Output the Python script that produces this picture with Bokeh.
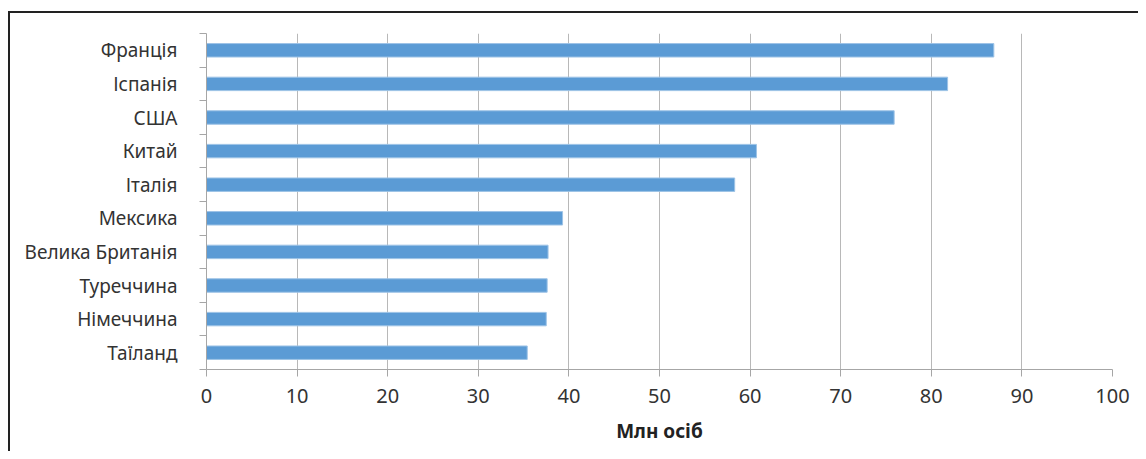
from bokeh.plotting import figure
from bokeh.models import FixedTicker, Range1d
from bokeh.embed import file_html
from bokeh.resources import INLINE

countries = ["Франція", "Іспанія", "США", "Китай", "Італія", "Мексика",
             "Велика Британія", "Туреччина", "Німеччина", "Таїланд"]
values = [86.9, 81.8, 75.9, 60.7, 58.3, 39.3, 37.7, 37.6, 37.5, 35.4]
x_ticks = [0, 10, 20, 30, 40, 50, 60, 70, 80, 90, 100]
x_title = "Млн осіб"

n = len(countries)
ypos = [n - i - 0.5 for i in range(n)]

p = figure(width=1130, height=440, output_backend="svg", toolbar_location=None,
           x_range=Range1d(0, 100), y_range=Range1d(0, n),
           min_border_left=196, min_border_right=28, min_border_top=20, min_border_bottom=84)
p.styles = {"border-left": "2px solid #222", "border-top": "2px solid #222",
            "margin-left": "8px", "margin-top": "11px"}

p.hbar(y=ypos, right=values, left=0, height=0.4, fill_color="#5B9BD5",
       line_color="#9DC3E6", line_width=1)

p.outline_line_color = None
p.background_fill_color = "white"
p.border_fill_color = "white"

# x axis
xa = p.xaxis[0]
xa.ticker = FixedTicker(ticks=x_ticks)
xa.axis_line_color = "#A6A6A6"
xa.major_tick_line_color = "#A6A6A6"
xa.major_tick_out = 7
xa.major_tick_in = 0
xa.minor_tick_line_color = None
xa.major_label_text_font = "Noto Sans"
xa.major_label_text_font_size = "20px"
xa.major_label_text_color = "#333333"
xa.major_label_standoff = 12
xa.axis_label = x_title
xa.axis_label_text_font = "Noto Sans"
xa.axis_label_text_font_style = "bold"
xa.axis_label_text_font_size = "19px"
xa.axis_label_text_color = "#222222"
xa.axis_label_standoff = 12

# y axis
ya = p.yaxis[0]
ya.ticker = FixedTicker(ticks=ypos, minor_ticks=list(range(n + 1)))
ya.major_label_overrides = {y: c for y, c in zip(ypos, countries)}
ya.axis_line_color = "#A6A6A6"
ya.major_tick_line_color = None
ya.minor_tick_line_color = "#A6A6A6"
ya.minor_tick_out = 7
ya.minor_tick_in = 0
ya.major_label_text_font = "Noto Sans"
ya.major_label_text_font_size = "19px"
ya.major_label_text_color = "#333333"
ya.major_label_standoff = 22

p.xgrid.grid_line_color = "#B8B8B8"
p.xgrid.grid_line_width = 1
p.ygrid.grid_line_color = None

open("out.html", "w").write(file_html(p, INLINE))
